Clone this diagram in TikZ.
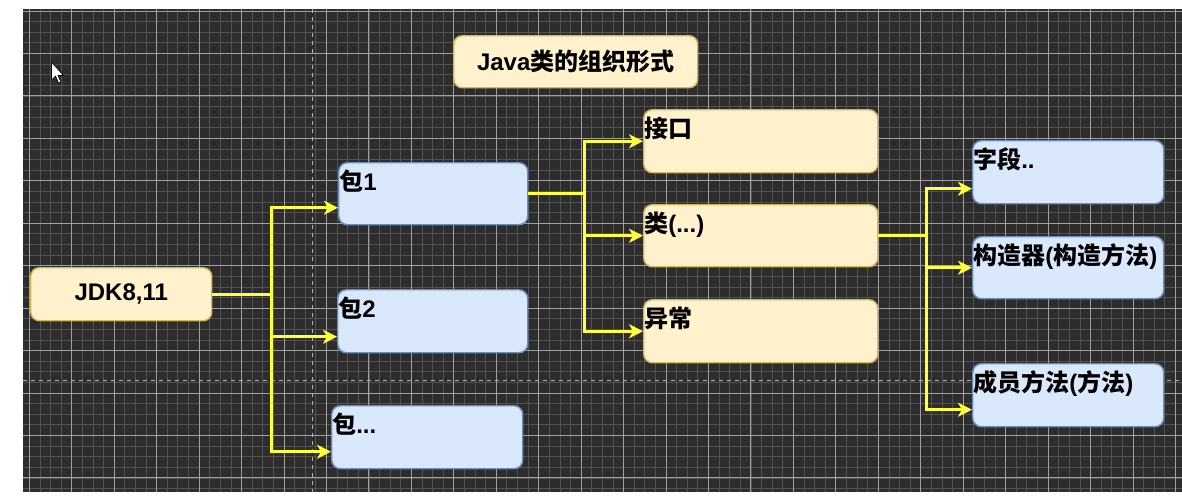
\documentclass[tikz,border=0pt]{standalone}
\usepackage{fontspec}
\setmainfont{Liberation Sans}
\newfontfamily\cjkfont{Noto Sans CJK SC}
\newcommand{\zh}[1]{{\cjkfont\bfseries #1}}
\usetikzlibrary{arrows.meta,calc}
\definecolor{canvasbg}{HTML}{2D2D2D}
\definecolor{minorgrid}{HTML}{525252}
\definecolor{majorgrid}{HTML}{A0A0A0}
\definecolor{creamfill}{HTML}{FFF2CC}
\definecolor{creamline}{HTML}{D6B656}
\definecolor{bluefill}{HTML}{DAE8FC}
\definecolor{blueline}{HTML}{6C8EBF}
\definecolor{connyellow}{HTML}{FFFF3C}
\tikzset{
  cream/.style={draw=creamline, fill=creamfill, line width=1.1pt, rounded corners=6.5pt, inner sep=0pt, anchor=north west},
  blue/.style={draw=blueline, fill=bluefill, line width=1.1pt, rounded corners=6.5pt, inner sep=0pt, anchor=north west},
  lbl/.style={anchor=base west, inner sep=0pt, font=\fontsize{18}{22}\selectfont\bfseries, text=black},
  ctr/.style={inner sep=0pt, font=\fontsize{18}{22}\selectfont\bfseries, text=black},
  conn/.style={draw=connyellow, line width=2.5pt, line join=miter, -{Stealth[length=10.5pt, width=10.5pt, inset=3pt]}},
  pagebreak/.style={draw=gray!60, line width=0.9pt, dash pattern=on 3pt off 3pt}
}
\begin{document}
\begin{tikzpicture}[x=0.75pt, y=-0.75pt]
\useasboundingbox (0,0) rectangle (1182,496);
\fill[white] (0,0) rectangle (1182,496);
% canvas with grid
\begin{scope}
\clip (23,9) rectangle (1182,492);
\fill[canvasbg] (23,9) rectangle (1182,492);
\foreach \k in {0,...,108} {
  \draw[minorgrid, line width=0.6pt] ({29.3+10.6125*\k},9) -- ({29.3+10.6125*\k},492);
}
\foreach \k in {0,...,45} {
  \draw[minorgrid, line width=0.6pt] (23,{11+10.6125*\k}) -- (1182,{11+10.6125*\k});
}
\foreach \k in {0,...,27} {
  \draw[majorgrid, line width=0.7pt] ({29.3+42.45*\k},9) -- ({29.3+42.45*\k},492);
}
\foreach \k in {0,...,11} {
  \draw[majorgrid, line width=0.7pt] (23,{11+42.45*\k}) -- (1182,{11+42.45*\k});
}
\draw[pagebreak] (312.3,9) -- (312.3,492);
\draw[pagebreak] (23,380.7) -- (1182,380.7);
\end{scope}
% cursor
\filldraw[fill=white, draw=black, line width=0.5pt, line join=round]
  (51.5,62) -- (51.5,80) -- (55.5,76) -- (58.5,83) -- (61,82) -- (58,75.5) -- (63.5,75.5) -- cycle;
% boxes
\node[cream, minimum width=183pt, minimum height=39pt] (title) at (453,35) {};
\node[ctr] (titletext) at (title.center) {Java\zh{类的组织形式}};
\node[cream, minimum width=135.75pt, minimum height=39.75pt] (jdk) at (30,267) {};
\node[ctr] (jdktext) at (jdk.center) {JDK8,11};
\node[blue, minimum width=141.75pt, minimum height=46.5pt] (p1) at (338,162) {};
\node[blue, minimum width=142.5pt, minimum height=47.25pt] (p2) at (337,289) {};
\node[blue, minimum width=143.25pt, minimum height=47.25pt] (p3) at (331,405) {};
\node[cream, minimum width=175.5pt, minimum height=47.25pt] (jk) at (643,109) {};
\node[cream, minimum width=175.5pt, minimum height=46.5pt] (lei) at (643,204) {};
\node[cream, minimum width=175.5pt, minimum height=47.25pt] (yc) at (643,299) {};
\node[blue, minimum width=143.25pt, minimum height=47.25pt] (zd) at (972,140) {};
\node[blue, minimum width=143.25pt, minimum height=46.5pt] (gzq) at (972,236) {};
\node[blue, minimum width=143.25pt, minimum height=47.25pt] (cy) at (972,363) {};
% labels
\node[lbl] (p1t) at ($(p1.north west)+(1,28)$) {\zh{包}1};
\node[lbl] (p2t) at ($(p2.north west)+(1,28)$) {\zh{包}2};
\node[lbl] (p3t) at ($(p3.north west)+(1,28)$) {\zh{包}...};
\node[lbl] (jkt) at ($(jk.north west)+(1,28)$) {\zh{接口}};
\node[lbl] (leit) at ($(lei.north west)+(1,28)$) {\zh{类}(...)};
\node[lbl] (yct) at ($(yc.north west)+(1,28)$) {\zh{异常}};
\node[lbl] (zdt) at ($(zd.north west)+(1,28)$) {\zh{字段}..};
\node[lbl] (gzqt) at ($(gzq.north west)+(1,28)$) {\zh{构造器}(\zh{构造方法})};
\node[lbl] (cyt) at ($(cy.north west)+(1,28)$) {\zh{成员方法}(\zh{方法})};
% trunks
\coordinate (jt) at ($(jdk.east)+(59,0)$);
\coordinate (pt) at ($(p1.east)+(56,0)$);
\coordinate (lt) at ($(lei.east)+(48,0)$);
% connectors
\draw[conn] (jdk.east) -- (jt) |- ($(p1.west)+(0,14)$);
\draw[conn] (jdk.east) -- (jt) |- ($(p2.west)+(0,15.5)$);
\draw[conn] (jdk.east) -- (jt) |- ($(p3.west)+(0,14.5)$);
\draw[conn] (p1.east) -- (pt) |- (jk.west);
\draw[conn] (p1.east) -- (pt) |- (lei.west);
\draw[conn] (p1.east) -- (pt) |- (yc.west);
\draw[conn] (lei.east) -- (lt) |- ($(zd.west)+(0,16.5)$);
\draw[conn] (lei.east) -- (lt) |- (gzq.west);
\draw[conn] (lei.east) -- (lt) |- ($(cy.west)+(0,14.5)$);
\end{tikzpicture}
\end{document}
